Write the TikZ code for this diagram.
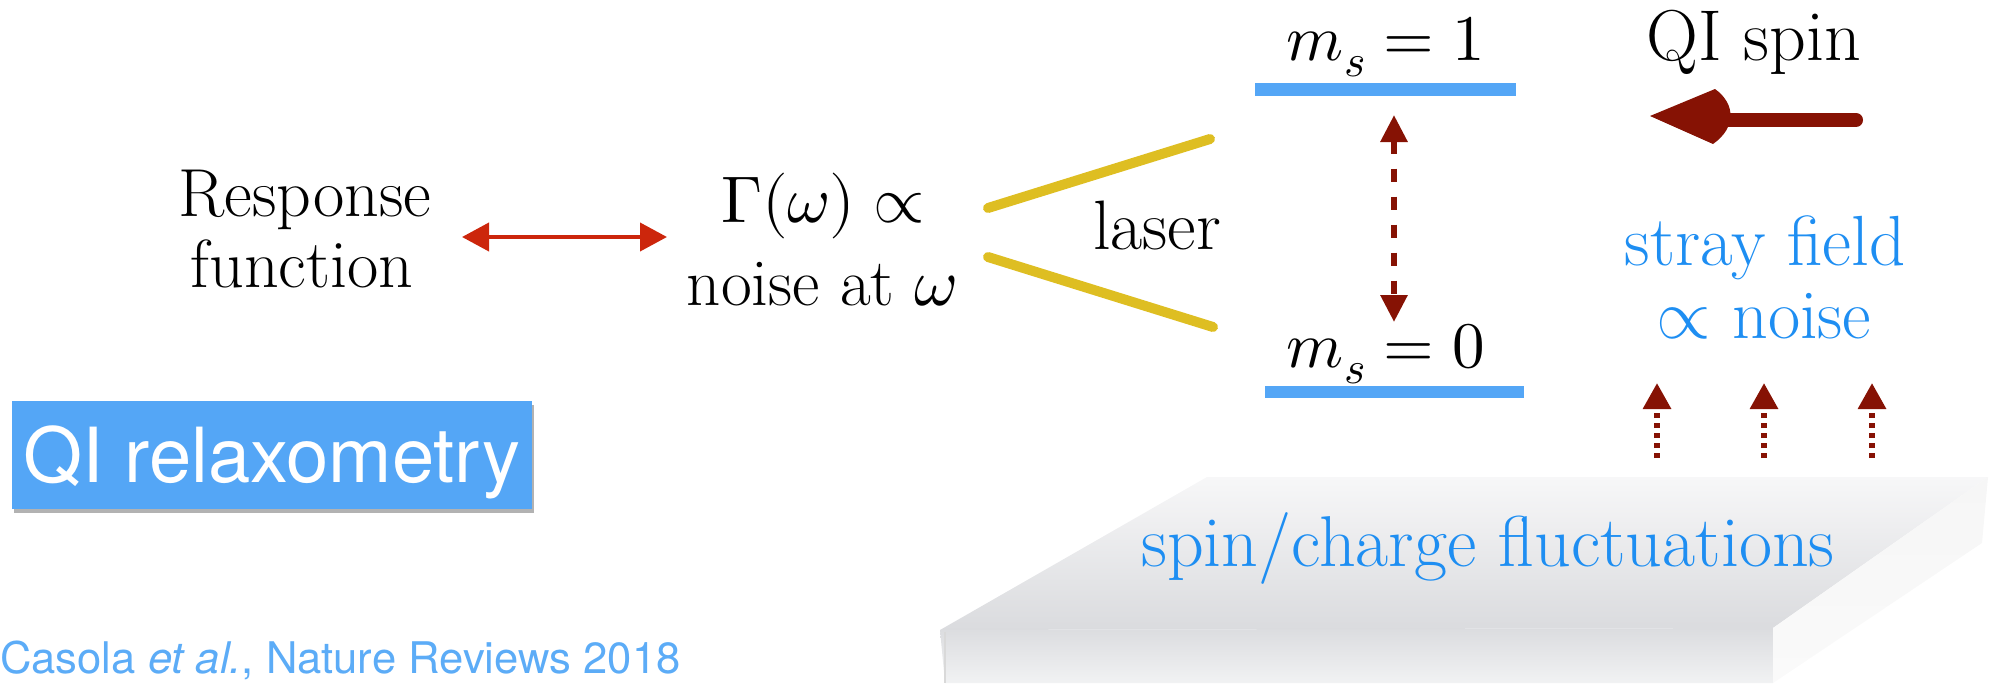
\documentclass[tikz,border=0pt]{standalone}
\usepackage{fontspec}
\usepackage{unicode-math}
\usetikzlibrary{arrows.meta,shadows}
\newfontfamily\herosfont{TeX Gyre Heros}
\definecolor{barblue}{RGB}{84,166,246}
\definecolor{txtblue}{RGB}{30,142,242}
\definecolor{citeblue}{RGB}{92,172,247}
\definecolor{darkred}{RGB}{134,18,4}
\definecolor{laserred}{RGB}{204,38,12}
\definecolor{laseryellow}{RGB}{222,190,34}
\newcommand{\fsz}[1]{\fontsize{#1}{#1}\selectfont}
\begin{document}
\begin{tikzpicture}[x=1pt,y=-1pt,
  txt/.style={anchor=base,inner sep=0pt,outer sep=0pt},
  bar/.style={fill=barblue,inner sep=0pt,outer sep=0pt},
  laserline/.style={draw=laseryellow,line width=10pt,line cap=round},
  redarrow/.style={draw=laserred,line width=4pt,{Triangle[length=27pt,width=28pt]}-{Triangle[length=27pt,width=28pt]}},
  levelarrow/.style={draw=darkred,line width=6pt,dash pattern=on 13pt off 15pt,{Triangle[length=27pt,width=26pt]}-{Triangle[length=27pt,width=26pt]}},
  strayarrow/.style={draw=darkred,line width=6pt,dash pattern=on 5pt off 5pt,-{Triangle[length=26pt,width=27pt]}}]
\useasboundingbox (0,0) rectangle (1997,683);
% slab
\shade[top color={rgb,255:red,247;green,247;blue,248}, bottom color={rgb,255:red,218;green,219;blue,222}]
  (1207,477) -- (1988,477) -- (1773,628) -- (940,630) -- cycle;
\shade[top color={rgb,255:red,219;green,220;blue,223}, bottom color={rgb,255:red,241;green,242;blue,243}]
  (940,630) -- (1773,628) -- (1773,683) -- (945,683) -- cycle;
\shade[top color={rgb,255:red,246;green,246;blue,246}, bottom color={rgb,255:red,250;green,250;blue,250}]
  (1773,628) -- (1988,477) -- (1982,543) -- (1773,683) -- cycle;
\draw[gray!30,line width=1.5pt] (945,632) -- (945,683);
% left texts
\node[txt,font=\fsz{68}] (resp) at (305,216) {Response};
\node[txt,font=\fsz{68}] (func) at (302,287) {function};
\node[txt,font=\fsz{66}] (gam) at (823,222) {$\Gamma(\omega)\propto$};
\node[txt,font=\fsz{67}] (noise) at (822,305) {noise at $\omega$};
\coordinate (ra) at (462,237);
\coordinate (rb) at (667,237);
\draw[redarrow] (ra) -- (rb);
% laser
\coordinate (l1a) at (988,208); \coordinate (l1b) at (1210,139);
\coordinate (l2a) at (988,257); \coordinate (l2b) at (1213,327);
\draw[laserline] (l1a) -- (l1b);
\draw[laserline] (l2a) -- (l2b);
\node[txt,font=\fsz{70}] (laser) at (1157,249) {laser};
% levels
\node[txt,font=\fsz{65}] (m1) at (1386,60) {$m_s=1$};
\node[bar,minimum width=261pt,minimum height=13pt] (lvl1) at (1385.5,89.5) {};
\node[txt,font=\fsz{65}] (m0) at (1386,367) {$m_s=0$};
\node[bar,minimum width=259pt,minimum height=12pt] (lvl0) at (1394.5,392) {};
\coordinate (ta) at (1394,115);
\coordinate (tb) at (1394,322);
\draw[levelarrow] (ta) -- (tb);
% QI spin
\node[txt,font=\fsz{72}] (qis) at (1754,60) {QI spin};
\draw[darkred,line width=14pt,line cap=round] (1722,120) -- (1856,120);
\fill[darkred] (1650,116) -- (1715,89) .. controls (1736,104) and (1736,128) .. (1713,144) -- cycle;
% stray field
\node[txt,font=\fsz{71},text=txtblue] (stray) at (1765,265) {stray field};
\node[txt,font=\fsz{70},text=txtblue] (propn) at (1764,338) {$\propto$ noise};
\foreach \xx/\nm in {1657/s1,1764/s2,1872/s3}{
  \coordinate (\nm a) at (\xx,458);
  \coordinate (\nm b) at (\xx,383);
  \draw[strayarrow] (\nm a) -- (\nm b);
}
\node[txt,font=\fsz{72},text=txtblue] (scf) at (1488,566) {spin/charge fluctuations};
% QI relaxometry box
\node[fill=barblue,minimum width=520pt,minimum height=108pt,anchor=north west,inner sep=0pt,
  drop shadow={shadow xshift=2pt,shadow yshift=-4pt,opacity=0.3,fill=black}] (qrbox) at (12,401) {};
\node[anchor=base west,inner sep=0pt,font=\herosfont\fontsize{76}{90}\selectfont,text=white] (qrt) at (23,482) {QI relaxometry};
\node[anchor=base west,inner sep=0pt,font=\herosfont\fontsize{43.6}{50}\selectfont,text=citeblue] (cite) at (0,673) {Casola \textit{et al.}, Nature Reviews 2018};
\end{tikzpicture}
\end{document}
